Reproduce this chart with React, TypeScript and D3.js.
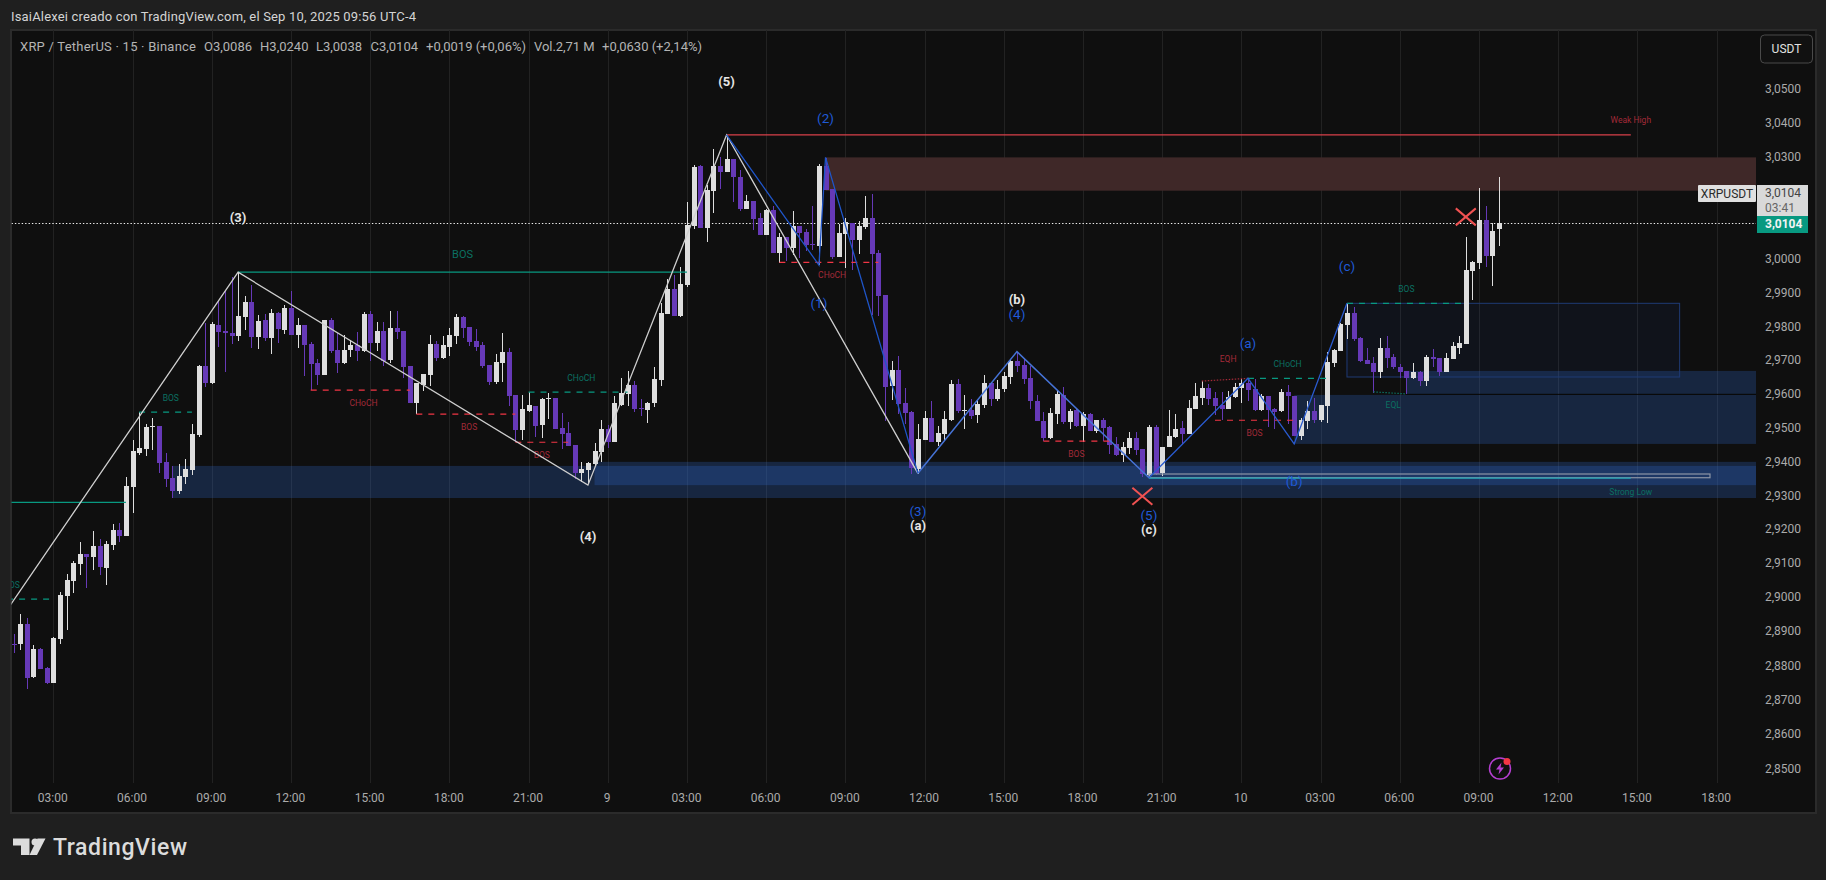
import React, { useEffect, useRef } from 'react';
import { select, scaleLinear, range, axisRight, axisBottom, line, Selection } from 'd3';

const opens = [
  2.8863,2.8861,2.8920,2.8766,2.8849,2.8793,2.8748,2.8878,2.9003,2.9047,
  2.9097,2.9127,2.9118,2.9151,2.9086,2.9154,2.9198,2.9180,2.9325,2.9426,
  2.9438,2.9504,2.9506,2.9399,2.9352,2.9313,2.9355,2.9375,2.9479,2.9683,
  2.9633,2.9804,2.9787,2.9781,2.9772,2.9828,2.9872,2.9769,2.9819,2.9766,
  2.9840,2.9790,2.9855,2.9775,2.9804,2.9748,2.9691,2.9656,2.9819,2.9730,
  2.9691,2.9730,2.9745,2.9727,2.9836,2.9751,2.9786,2.9700,2.9795,2.9786,
  2.9683,2.9573,2.9626,2.9656,2.9748,2.9706,2.9739,2.9771,2.9828,2.9798,
  2.9757,2.9745,2.9686,2.9635,2.9691,2.9724,2.9597,2.9493,2.9550,2.9564,
  2.9508,2.9586,2.9588,2.9499,2.9484,2.9449,2.9366,2.9375,2.9393,2.9428,
  2.9496,2.9458,2.9567,2.9600,2.9626,2.9558,2.9553,2.9573,2.9641,2.9837,
  2.9911,2.9831,2.9923,3.0097,3.0272,3.0091,3.0198,3.0272,3.0254,3.0292,
  3.0239,3.0147,3.0171,3.0121,3.0070,3.0144,3.0017,3.0065,3.0032,3.0097,
  3.0079,3.0044,3.0038,3.0272,3.0204,3.0005,3.0073,3.0106,3.0056,3.0094,
  3.0121,3.0017,2.9893,2.9624,2.9671,2.9573,2.9547,2.9378,2.9464,2.9529,
  2.9458,2.9482,2.9523,2.9630,2.9551,2.9553,2.9538,2.9568,2.9633,2.9585,
  2.9615,2.9651,2.9698,2.9686,2.9648,2.9580,2.9520,2.9470,2.9541,2.9597,
  2.9517,2.9553,2.9506,2.9541,2.9491,2.9523,2.9503,2.9452,2.9420,2.9441,
  2.9470,2.9438,2.9361,2.9503,2.9367,2.9444,2.9473,2.9500,2.9482,2.9556,
  2.9588,2.9618,2.9588,2.9568,2.9556,2.9591,2.9617,2.9632,2.9614,2.9552,
  2.9593,2.9555,2.9549,2.9605,2.9593,2.9475,2.9520,2.9549,2.9522,2.9564,
  2.9691,2.9727,2.9804,2.9839,2.9765,2.9700,2.9691,2.9664,2.9735,2.9709,
  2.9679,2.9667,2.9647,2.9664,2.9638,2.9709,2.9706,2.9664,2.9703,2.9735,
  2.9747,2.9963,2.9987,3.0114,3.0008,3.0086,
];

const closes = [
  2.8862,2.8920,2.8763,2.8849,2.8790,2.8748,2.8881,2.9006,2.9050,2.9100,
  2.9127,2.9118,2.9151,2.9088,2.9157,2.9198,2.9180,2.9328,2.9432,2.9440,
  2.9503,2.9506,2.9396,2.9349,2.9313,2.9358,2.9378,2.9482,2.9683,2.9633,
  2.9807,2.9784,2.9781,2.9772,2.9831,2.9872,2.9769,2.9816,2.9766,2.9840,
  2.9792,2.9855,2.9775,2.9804,2.9745,2.9689,2.9656,2.9819,2.9727,2.9691,
  2.9730,2.9745,2.9727,2.9836,2.9751,2.9786,2.9697,2.9795,2.9783,2.9680,
  2.9573,2.9632,2.9659,2.9748,2.9706,2.9745,2.9774,2.9828,2.9795,2.9754,
  2.9739,2.9683,2.9635,2.9694,2.9724,2.9594,2.9493,2.9555,2.9567,2.9505,
  2.9585,2.9588,2.9496,2.9481,2.9446,2.9366,2.9378,2.9396,2.9431,2.9496,
  2.9458,2.9573,2.9603,2.9626,2.9554,2.9555,2.9572,2.9644,2.9840,2.9911,
  2.9831,2.9925,3.0100,3.0269,3.0091,3.0201,3.0272,3.0254,3.0292,3.0239,
  3.0147,3.0171,3.0118,3.0070,3.0144,3.0017,3.0065,3.0032,3.0097,3.0076,
  3.0041,3.0041,3.0272,3.0201,3.0005,3.0076,3.0109,3.0056,3.0097,3.0121,
  3.0014,2.9890,2.9621,2.9671,2.9571,2.9544,2.9381,2.9467,2.9529,2.9458,
  2.9485,2.9526,2.9630,2.9550,2.9553,2.9535,2.9571,2.9633,2.9585,2.9615,
  2.9654,2.9698,2.9683,2.9645,2.9580,2.9520,2.9470,2.9544,2.9600,2.9517,
  2.9550,2.9506,2.9541,2.9491,2.9523,2.9500,2.9449,2.9420,2.9444,2.9470,
  2.9435,2.9364,2.9503,2.9364,2.9444,2.9476,2.9497,2.9482,2.9559,2.9594,
  2.9618,2.9585,2.9565,2.9556,2.9591,2.9620,2.9632,2.9611,2.9552,2.9593,
  2.9552,2.9546,2.9605,2.9593,2.9475,2.9522,2.9549,2.9522,2.9567,2.9694,
  2.9730,2.9806,2.9839,2.9762,2.9697,2.9688,2.9664,2.9735,2.9706,2.9679,
  2.9664,2.9647,2.9664,2.9638,2.9709,2.9703,2.9664,2.9706,2.9741,2.9750,
  2.9966,2.9990,3.0114,3.0008,3.0082,3.0104,
];

const highs = [
  2.8890,2.8949,2.8938,2.8858,2.8852,2.8794,2.8884,2.9013,2.9068,2.9106,
  2.9162,2.9127,2.9195,2.9171,2.9165,2.9216,2.9219,2.9355,2.9464,2.9547,
  2.9511,2.9529,2.9506,2.9426,2.9387,2.9393,2.9408,2.9511,2.9686,2.9809,
  2.9813,2.9875,2.9908,2.9946,2.9960,2.9890,2.9923,2.9834,2.9837,2.9852,
  2.9843,2.9863,2.9905,2.9825,2.9804,2.9754,2.9703,2.9819,2.9825,2.9780,
  2.9774,2.9760,2.9783,2.9842,2.9845,2.9813,2.9813,2.9845,2.9845,2.9786,
  2.9683,2.9632,2.9659,2.9774,2.9757,2.9771,2.9795,2.9836,2.9831,2.9798,
  2.9792,2.9754,2.9686,2.9718,2.9780,2.9736,2.9597,2.9597,2.9606,2.9564,
  2.9588,2.9603,2.9588,2.9544,2.9517,2.9449,2.9399,2.9399,2.9455,2.9523,
  2.9508,2.9594,2.9647,2.9668,2.9638,2.9584,2.9575,2.9680,2.9868,2.9940,
  2.9952,2.9976,3.0168,3.0277,3.0275,3.0218,3.0322,3.0298,3.0365,3.0292,
  3.0260,3.0186,3.0171,3.0133,3.0147,3.0156,3.0075,3.0065,3.0141,3.0097,
  3.0088,3.0156,3.0280,3.0297,3.0204,3.0103,3.0121,3.0106,3.0112,3.0183,
  3.0189,3.0026,2.9893,2.9698,2.9712,2.9618,2.9550,2.9511,2.9550,2.9579,
  2.9505,2.9550,2.9642,2.9645,2.9597,2.9585,2.9583,2.9656,2.9636,2.9642,
  2.9665,2.9701,2.9725,2.9704,2.9683,2.9597,2.9547,2.9559,2.9612,2.9621,
  2.9556,2.9556,2.9547,2.9544,2.9523,2.9529,2.9506,2.9473,2.9458,2.9488,
  2.9488,2.9438,2.9509,2.9509,2.9444,2.9553,2.9541,2.9520,2.9583,2.9633,
  2.9639,2.9630,2.9606,2.9606,2.9609,2.9632,2.9644,2.9644,2.9644,2.9599,
  2.9593,2.9558,2.9614,2.9626,2.9593,2.9528,2.9579,2.9588,2.9567,2.9724,
  2.9733,2.9809,2.9866,2.9857,2.9768,2.9735,2.9709,2.9765,2.9771,2.9718,
  2.9688,2.9667,2.9691,2.9667,2.9715,2.9733,2.9706,2.9721,2.9753,2.9771,
  3.0064,2.9993,3.0209,3.0156,3.0105,3.0240,
];

const lows = [
  2.8837,2.8845,2.8731,2.8763,2.8790,2.8745,2.8748,2.8861,2.8902,2.9012,
  2.9065,2.9026,2.9080,2.9065,2.9035,2.9139,2.9162,2.9180,2.9248,2.9420,
  2.9417,2.9435,2.9367,2.9325,2.9293,2.9304,2.9334,2.9361,2.9473,2.9621,
  2.9630,2.9739,2.9665,2.9748,2.9757,2.9790,2.9736,2.9733,2.9757,2.9719,
  2.9751,2.9778,2.9775,2.9736,2.9653,2.9612,2.9626,2.9656,2.9721,2.9662,
  2.9689,2.9709,2.9697,2.9724,2.9697,2.9727,2.9683,2.9691,2.9762,2.9647,
  2.9573,2.9540,2.9609,2.9623,2.9697,2.9703,2.9712,2.9748,2.9765,2.9742,
  2.9727,2.9677,2.9626,2.9629,2.9635,2.9564,2.9458,2.9464,2.9547,2.9473,
  2.9470,2.9526,2.9496,2.9437,2.9446,2.9348,2.9339,2.9334,2.9387,2.9399,
  2.9440,2.9458,2.9564,2.9564,2.9547,2.9535,2.9514,2.9562,2.9624,2.9837,
  2.9829,2.9828,2.9917,3.0088,3.0091,3.0050,3.0135,3.0206,3.0254,3.0168,
  3.0141,3.0147,3.0085,3.0070,3.0070,3.0017,2.9988,2.9994,3.0011,3.0002,
  3.0023,3.0026,2.9982,3.0201,2.9999,3.0005,2.9973,2.9967,3.0014,3.0088,
  2.9834,2.9831,2.9520,2.9582,2.9541,2.9511,2.9363,2.9363,2.9464,2.9458,
  2.9446,2.9461,2.9520,2.9544,2.9497,2.9526,2.9514,2.9559,2.9565,2.9580,
  2.9606,2.9630,2.9665,2.9630,2.9556,2.9520,2.9461,2.9467,2.9512,2.9512,
  2.9497,2.9503,2.9458,2.9491,2.9485,2.9461,2.9423,2.9417,2.9399,2.9423,
  2.9420,2.9355,2.9352,2.9361,2.9358,2.9444,2.9470,2.9452,2.9482,2.9556,
  2.9568,2.9568,2.9538,2.9523,2.9556,2.9588,2.9573,2.9579,2.9549,2.9549,
  2.9502,2.9496,2.9546,2.9511,2.9475,2.9463,2.9496,2.9514,2.9517,2.9514,
  2.9679,2.9727,2.9762,2.9756,2.9694,2.9688,2.9602,2.9647,2.9676,2.9673,
  2.9647,2.9599,2.9644,2.9623,2.9623,2.9679,2.9653,2.9664,2.9703,2.9718,
  2.9747,2.9877,2.9969,2.9975,2.9919,3.0038,
];

// bar 0 is the 03:00 candle of the first day, 15 min per bar
const firstBar = -6;
const bars = range(opens.length).map(i => ({
  i: i + firstBar, o: opens[i], h: highs[i], l: lows[i], c: closes[i],
}));

const timeLabels = ['03:00','06:00','09:00','12:00','15:00','18:00','21:00','9','03:00','06:00','09:00','12:00','15:00','18:00','21:00','10','03:00','06:00','09:00','12:00','15:00','18:00'];
const priceTicks = [3.05,3.04,3.03,3.0,2.99,2.98,2.97,2.96,2.95,2.94,2.93,2.92,2.91,2.90,2.89,2.88,2.87,2.86,2.85];
const lastPrice = 3.0104;

// price zones: bar index where they start, top and bottom price
const blueZones = [
  { from: 18, to: 300, top: 2.9387, bottom: 2.9292 },
  { from: 82, to: 300, top: 2.9399, bottom: 2.9330 },
  { from: 188, to: 300, top: 2.9597, bottom: 2.9452 },
  { from: 205, to: 300, top: 2.9668, bottom: 2.9600 },
];
const redZone = { from: 117, to: 300, top: 3.0298, bottom: 3.0200 };
const outlineBox = { from: 196, to: 246.4, top: 2.9868, bottom: 2.9650 };
const thinBox = { from: 166, to: 251, top: 2.9363, bottom: 2.9352 };

const structure = [
  { label: 'BOS', tone: 'green', solid: true, from: 28, to: 96, price: 2.9960, at: 62, big: true },
  { label: '', tone: 'green', solid: true, from: -7, to: 11, price: 2.9279, at: 0 },
  { label: 'BOS', tone: 'green', solid: false, from: -7, to: 0, price: 2.8993, at: -6.3 },
  { label: 'BOS', tone: 'green', solid: false, from: 13, to: 21, price: 2.9546, at: 17.8 },
  { label: 'CHoCH', tone: 'red', solid: false, from: 39, to: 54, price: 2.9611, at: 47 },
  { label: 'BOS', tone: 'red', solid: false, from: 55, to: 70, price: 2.9540, at: 63 },
  { label: 'BOS', tone: 'red', solid: false, from: 70, to: 78, price: 2.9457, at: 74 },
  { label: 'CHoCH', tone: 'green', solid: false, from: 72, to: 87, price: 2.9605, at: 80 },
  { label: 'CHoCH', tone: 'red', solid: false, from: 110, to: 125, price: 2.9989, at: 118 },
  { label: 'BOS', tone: 'red', solid: false, from: 150, to: 160, price: 2.9460, at: 155 },
  { label: 'CHoCH', tone: 'green', solid: false, from: 181, to: 193, price: 2.9646, at: 187 },
  { label: 'BOS', tone: 'red', solid: false, from: 176, to: 188, price: 2.9522, at: 182 },
  { label: 'BOS', tone: 'green', solid: false, from: 196, to: 214, price: 2.9868, at: 205 },
];
const weakHigh = { from: 102, to: 239, price: 3.0364 };
const strongLow = { from: 166, to: 239, price: 2.9351 };
const eqh = [[174, 2.9638], [181, 2.9646]];
const eql = [[200, 2.9606], [205, 2.9600]];

// elliott legs, [bar, price]
const whiteWave = [[-7, 2.8962], [28, 2.9960], [81, 2.9330], [102, 3.0364], [131, 2.9365]];
const blueWave = [[102, 3.0364], [116, 2.9981], [117, 3.0298], [131, 2.9365]];
const lightWave = [[131, 2.9365], [146, 2.9725], [166, 2.9352]];
const lastWave = [[166, 2.9352], [181, 2.9646], [188, 2.9452], [196, 2.9868]];

const whiteLabels = [
  { t: '(3)', i: 28, p: 3.0118 }, { t: '(5)', i: 102, p: 3.0518 }, { t: '(4)', i: 81, p: 2.9174 },
  { t: '(a)', i: 131, p: 2.9207 }, { t: '(b)', i: 146, p: 2.9876 }, { t: '(c)', i: 166, p: 2.9195 },
];
const blueLabels = [
  { t: '(2)', i: 117, p: 3.0410 }, { t: '(1)', i: 116, p: 2.9867 }, { t: '(4)', i: 146, p: 2.9832 },
  { t: '(3)', i: 131, p: 2.9251 }, { t: '(5)', i: 166, p: 2.9239 }, { t: '(a)', i: 181, p: 2.9749 },
  { t: '(b)', i: 188, p: 2.9340 }, { t: '(c)', i: 196, p: 2.9976 },
];
const crosses = [{ i: 165, p: 2.9297 }, { i: 214, p: 3.0123 }];

const legendParts = [
  { t: 'XRP / TetherUS · 15 · Binance', at: 20, w: 176 },
  { t: 'O3,0086', at: 204, w: 48 },
  { t: 'H3,0240', at: 260, w: 48.5 },
  { t: 'L3,0038', at: 316, w: 46 },
  { t: 'C3,0104', at: 370.5, w: 47.5 },
  { t: '+0,0019 (+0,06%)', at: 426, w: 100 },
  { t: 'Vol.2,71 M', at: 534, w: 60.5 },
  { t: '+0,0630 (+2,14%)', at: 602, w: 100 },
];

const x = scaleLinear().domain([0, 252]).range([53.3, 1716.6]);
// tick spacing is not quite constant over the range, so the scale is pinned at four labels
const y = scaleLinear().domain([2.85, 2.9, 3.0, 3.05]).range([768.5, 596.7, 258.7, 88.7]);
const fmtPrice = (v: number) => v.toFixed(4).replace('.', ',');

const FONT = 'Roboto, "Noto Sans", sans-serif';
const PANE = { left: 11.5, right: 1756, top: 30, bottom: 783 };
const UP = '#dedede';
const DOWN = '#6639b7';
const GREEN = '#089981';
const RED = '#f23645';

const App: React.FC = () => {
  const svgRef = useRef<SVGSVGElement | null>(null);

  useEffect(() => {
    const svg = select(svgRef.current);
    svg.selectAll('*').remove();

    // page frame
    svg.append('rect').attr('width', 1826).attr('height', 880).attr('fill', '#1f1f1f');
    svg.append('rect')
      .attr('x', 11).attr('y', 30).attr('width', 1805).attr('height', 783)
      .attr('fill', '#0f0f0f').attr('stroke', '#2b2b2b').attr('stroke-width', 2);

    svg.append('text').text('IsaiAlexei creado con TradingView.com, el Sep 10, 2025 09:56 UTC-4')
      .attr('x', 11).attr('y', 21).attr('fill', '#d4d4d4')
      .attr('font-family', FONT).attr('font-size', 13).attr('textLength', 405);

    svg.append('defs').append('clipPath').attr('id', 'pane').append('rect')
      .attr('x', PANE.left).attr('y', PANE.top)
      .attr('width', PANE.right - PANE.left).attr('height', PANE.bottom - PANE.top);

    const pane = svg.append('g').attr('clip-path', 'url(#pane)');

    // vertical grid only
    pane.append('g').selectAll('line').data(timeLabels).join('line')
      .attr('x1', (_, k) => Math.round(x(k * 12)) + 0.5)
      .attr('x2', (_, k) => Math.round(x(k * 12)) + 0.5)
      .attr('y1', PANE.top).attr('y2', PANE.bottom)
      .attr('stroke', '#222222');

    // zones under the candles
    const zoneRect = (g: Selection<any, any, any, any>, z: { from: number; to: number; top: number; bottom: number }) =>
      g.append('rect')
        .attr('x', x(z.from)).attr('width', x(z.to) - x(z.from))
        .attr('y', y(z.top)).attr('height', y(z.bottom) - y(z.top));

    blueZones.forEach(z => zoneRect(pane, z).attr('fill', 'rgb(47,107,211)').attr('fill-opacity', 0.25));
    zoneRect(pane, redZone).attr('fill', '#3f2828');
    zoneRect(pane, outlineBox)
      .attr('fill', '#2962ff').attr('fill-opacity', 0.05)
      .attr('stroke', '#1f3a74').attr('stroke-width', 1);
    pane.append('line')
      .attr('x1', x(205)).attr('x2', PANE.right)
      .attr('y1', y(2.96) + 0.5).attr('y2', y(2.96) + 0.5)
      .attr('stroke', '#0a0a0a');

    // last price line
    pane.append('line')
      .attr('x1', PANE.left).attr('x2', PANE.right)
      .attr('y1', Math.round(y(lastPrice)) + 0.5).attr('y2', Math.round(y(lastPrice)) + 0.5)
      .attr('stroke', '#f0f0f0').attr('stroke-width', 1.2).attr('stroke-dasharray', '1.4 2');

    // candles
    const candle = pane.append('g').attr('shape-rendering', 'crispEdges')
      .selectAll('g').data(bars).join('g')
      .attr('fill', d => (d.c >= d.o ? UP : DOWN));
    candle.append('rect')
      .attr('x', d => Math.round(x(d.i)))
      .attr('width', 1)
      .attr('y', d => y(d.h))
      .attr('height', d => y(d.l) - y(d.h));
    candle.append('rect')
      .attr('x', d => Math.round(x(d.i)) - 2)
      .attr('width', 5)
      .attr('y', d => y(Math.max(d.o, d.c)))
      .attr('height', d => Math.max(1, Math.abs(y(d.o) - y(d.c))));

    // BOS / CHoCH structure
    const tone = (t: string) => (t === 'green' ? GREEN : RED);
    const labelTone = (t: string) => (t === 'green' ? '#0b7062' : '#a32a38');
    pane.append('g').selectAll('line').data(structure).join('line')
      .attr('x1', d => x(d.from)).attr('x2', d => x(d.to))
      .attr('y1', d => y(d.price)).attr('y2', d => y(d.price))
      .attr('stroke', d => tone(d.tone))
      .attr('stroke-width', 1.2)
      .attr('stroke-dasharray', d => (d.solid ? null : '6 6'));
    pane.append('g').selectAll('text').data(structure.filter(d => d.label)).join('text')
      .text(d => d.label)
      .attr('x', d => x(d.at))
      .attr('y', d => y(d.price) + (d.big ? -17 : d.tone === 'green' ? -14 : 13) + 3)
      .attr('text-anchor', 'middle')
      .attr('fill', d => labelTone(d.tone))
      .attr('font-family', FONT)
      .attr('font-size', d => (d.big ? 11 : 8.5));

    const lineOf = line<number[]>().x(d => x(d[0])).y(d => y(d[1]));
    const dotted = (pts: number[][], color: string) =>
      pane.append('path').attr('d', lineOf(pts)).attr('fill', 'none')
        .attr('stroke', color).attr('stroke-width', 1.2).attr('stroke-dasharray', '1.5 1.5');
    dotted(eqh, '#a32a38');
    dotted(eql, '#0b7062');
    const tinyText = (t: string, i: number, p: number, fill: string) =>
      pane.append('text').text(t).attr('x', x(i)).attr('y', y(p))
        .attr('text-anchor', 'middle').attr('fill', fill)
        .attr('font-family', FONT).attr('font-size', 8.5);
    tinyText('EQH', 178, 2.9695, '#a32a38');
    tinyText('EQL', 203, 2.9559, '#0b7062');

    // weak high / strong low
    pane.append('line')
      .attr('x1', x(weakHigh.from)).attr('x2', x(weakHigh.to))
      .attr('y1', y(weakHigh.price)).attr('y2', y(weakHigh.price))
      .attr('stroke', '#d9404a').attr('stroke-width', 1.3);
    tinyText('Weak High', 239, 3.0399, '#a32a38');
    zoneRect(pane, thinBox).attr('fill', 'none').attr('stroke', '#8d95a6').attr('stroke-width', 1.2);
    pane.append('line')
      .attr('x1', x(strongLow.from)).attr('x2', x(strongLow.to))
      .attr('y1', y(strongLow.price)).attr('y2', y(strongLow.price))
      .attr('stroke', '#1ea4b6').attr('stroke-width', 1.3);
    tinyText('Strong Low', 239, 2.9300, '#0b7062');

    // waves
    const wave = (pts: number[][], color: string, w: number) =>
      pane.append('path').attr('d', lineOf(pts)).attr('fill', 'none')
        .attr('stroke', color).attr('stroke-width', w);
    wave(whiteWave, '#cfcfcf', 1.3);
    wave(blueWave, '#1f55c8', 1.3);
    wave(lightWave, '#4673d6', 1.5);
    wave(lastWave, '#2a5bd0', 1.3);

    pane.append('g').selectAll('text').data(whiteLabels).join('text')
      .text(d => d.t)
      .attr('x', d => x(d.i)).attr('y', d => y(d.p) + 3.5)
      .attr('text-anchor', 'middle').attr('fill', '#e6e6e6')
      .attr('font-family', FONT).attr('font-weight', 700).attr('font-size', 13);
    pane.append('g').selectAll('text').data(blueLabels).join('text')
      .text(d => d.t)
      .attr('x', d => x(d.i)).attr('y', d => y(d.p) + 4)
      .attr('text-anchor', 'middle').attr('fill', '#1f5ad6')
      .attr('font-family', FONT).attr('font-size', 13.5);

    // red crosses
    const arm = 10;
    crosses.forEach(c => {
      const cx = x(c.i), cy = y(c.p);
      pane.append('path')
        .attr('d', `M${cx - arm} ${cy - arm * 0.85}L${cx + arm} ${cy + arm * 0.85}M${cx - arm} ${cy + arm * 0.85}L${cx + arm} ${cy - arm * 0.85}`)
        .attr('stroke', '#f05252').attr('stroke-width', 2);
    });

    // legend
    svg.append('g').selectAll('text').data(legendParts).join('text')
      .text(d => d.t)
      .attr('x', d => d.at).attr('y', 51)
      .attr('textLength', d => d.w)
      .attr('fill', '#b4b4b4').attr('font-family', FONT).attr('font-size', 13);

    // axes
    const priceAxis = axisRight(y).tickValues(priceTicks).tickSize(0).tickPadding(9).tickFormat(v => fmtPrice(+v));
    const pg = svg.append('g').attr('transform', `translate(${PANE.right},0)`).call(priceAxis);
    pg.select('.domain').remove();
    pg.selectAll('text').attr('fill', '#ababab').attr('font-family', FONT).attr('font-size', 12);

    const timeAxis = axisBottom(x).tickValues(timeLabels.map((_, k) => k * 12)).tickSize(0).tickPadding(10)
      .tickFormat((_, k) => timeLabels[k]);
    const tg = svg.append('g').attr('transform', `translate(-1,${PANE.bottom})`).call(timeAxis);
    tg.select('.domain').remove();
    tg.selectAll('text').attr('fill', '#ababab').attr('font-family', FONT).attr('font-size', 12);

    // USDT button
    svg.append('rect').attr('x', 1760.5).attr('y', 35).attr('width', 52).attr('height', 28).attr('rx', 4)
      .attr('fill', '#111111').attr('stroke', '#4a4a4a');
    svg.append('text').text('USDT').attr('x', 1786.5).attr('y', 53).attr('text-anchor', 'middle')
      .attr('fill', '#e0e0e0').attr('font-family', FONT).attr('font-size', 12);

    // price tags
    const tagY = y(lastPrice);
    svg.append('rect').attr('x', 1698).attr('y', 185).attr('width', 58).attr('height', 17).attr('fill', '#e0e0e0').attr('rx', 1);
    svg.append('text').text('XRPUSDT').attr('x', 1727).attr('y', 198).attr('text-anchor', 'middle')
      .attr('fill', '#2b2b2b').attr('font-family', FONT).attr('font-size', 12);
    svg.append('rect').attr('x', 1757).attr('y', 185).attr('width', 51).attr('height', 31).attr('fill', '#d9d9d9');
    svg.append('text').text(fmtPrice(lastPrice)).attr('x', 1765).attr('y', 197)
      .attr('fill', '#444444').attr('font-family', FONT).attr('font-size', 12);
    svg.append('text').text('03:41').attr('x', 1765).attr('y', 212)
      .attr('fill', '#666666').attr('font-family', FONT).attr('font-size', 12);
    svg.append('rect').attr('x', 1757).attr('y', 216).attr('width', 51).attr('height', 17).attr('fill', GREEN);
    svg.append('text').text(fmtPrice(lastPrice)).attr('x', 1765).attr('y', tagY + 5)
      .attr('fill', '#f4f4f4').attr('font-family', FONT).attr('font-weight', 700).attr('font-size', 12);

    // lightning badge
    const badge = svg.append('g').attr('transform', 'translate(1500,768.5)');
    badge.append('circle').attr('r', 10.5).attr('fill', 'none').attr('stroke', '#b43fd0').attr('stroke-width', 1.5);
    badge.append('path').attr('d', 'M1.5 -6 L-4 1 H-0.5 L-1.5 6 L4 -1 H0.5 Z').attr('fill', '#b43fd0');
    badge.append('circle').attr('cx', 7).attr('cy', -7).attr('r', 3.5).attr('fill', RED);

    // footer logo
    const logo = svg.append('g').attr('fill', '#dcdcdc');
    logo.append('path').attr('d', 'M13 838.5H29.5V855H21V845.5H13Z');
    logo.append('circle').attr('cx', 35).attr('cy', 842).attr('r', 3.5);
    logo.append('path').attr('d', 'M37.5 838.5H45.5L37 855H29.5Z');
    logo.append('text').text('TradingView').attr('x', 53).attr('y', 855)
      .attr('font-family', FONT).attr('font-size', 23).attr('font-weight', 500).attr('textLength', 134);
  }, []);

  return <svg ref={svgRef} width={1826} height={880} style={{ position: 'fixed', left: 0, top: 0 }} />;
};

export default App;
